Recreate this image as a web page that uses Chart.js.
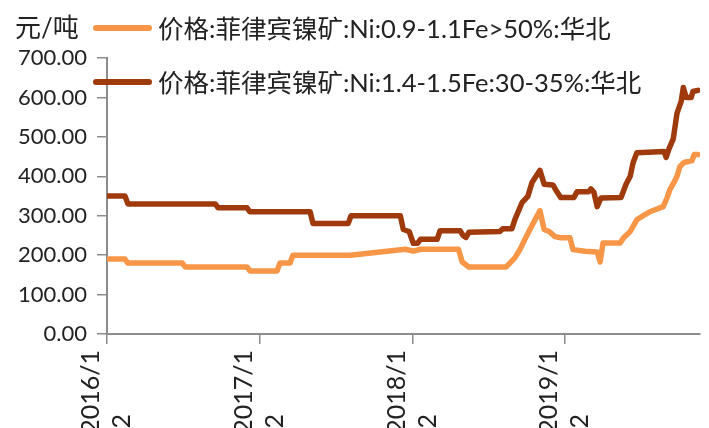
<!DOCTYPE html>
<html>
<head>
<meta charset="utf-8">
<script src="https://cdn.jsdelivr.net/npm/chart.js@4/dist/chart.umd.min.js"></script>
<style>
  html, body { margin: 0; padding: 0; background: #fff; }
  #wrap { position: relative; width: 709px; height: 428px; overflow: hidden; }
  #c { position: absolute; left: 0; top: 0; }
  .txt { position: absolute; white-space: nowrap; color: #222;
         font-family: Lato, "Noto Sans CJK SC", sans-serif; font-size: 25.5px;
         height: 40px; line-height: 40px; }
  .swatch { position: absolute; width: 59px; height: 6px; border-radius: 3px; }
</style>
</head>
<body>
<div id="wrap">
  <canvas id="c" width="709" height="428"></canvas>
  <div class="txt" id="unit" style="left:15px; top:7px; font-size:26px;">元/吨</div>
  <div class="swatch" id="sw0" style="left:93px; top:25px;"></div>
  <div class="txt" id="lg0" style="left:158px; top:8px;"></div>
  <div class="swatch" id="sw1" style="left:93px; top:79px;"></div>
  <div class="txt" id="lg1" style="left:158px; top:62px;"></div>
</div>
<script>
// Series names
const seriesNames = [
  '价格:菲律宾镍矿:Ni:0.9-1.1Fe>50%:华北',
  '价格:菲律宾镍矿:Ni:1.4-1.5Fe:30-35%:华北'
];
const seriesColors = ['#F79646', '#9E3A0B'];

// Ni 0.9-1.1, Fe>50% (元/吨)
const orangeDates = ['2016-01-02','2016-02-14','2016-02-21','2016-06-30','2016-07-07','2016-12-02','2016-12-09',
  '2017-02-12','2017-02-19','2017-03-15','2017-03-22','2017-08-06','2017-12-16',
  '2018-01-04','2018-01-21','2018-04-22','2018-05-01','2018-05-16','2018-08-14','2018-08-23','2018-09-04',
  '2018-09-16','2018-09-28','2018-10-10','2018-10-20','2018-11-03','2018-11-13','2018-11-25','2018-12-09','2018-12-23',
  '2019-01-14','2019-01-21','2019-02-19','2019-03-20','2019-03-27','2019-04-03','2019-05-14','2019-05-23','2019-06-07',
  '2019-06-23','2019-07-08','2019-07-24','2019-08-25','2019-09-03','2019-09-10','2019-09-20','2019-09-27','2019-10-04',
  '2019-10-14','2019-11-02','2019-11-07','2019-11-16'];
const orangeValues = [190,190,180,180,170,170,160,
  160,180,180,200,200,215,
  210,215,215,183,170,170,180,193,
  214,240,265,285,313,265,260,247,244,
  244,214,210,208,183,231,231,245,260,
  290,300,310,323,345,366,385,400,425,
  435,440,455,455];

// Ni 1.4-1.5, Fe 30-35% (元/吨)
const darkDates = ['2016-01-02','2016-02-14','2016-02-21','2016-09-17','2016-09-24','2016-12-02','2016-12-09',
  '2017-05-02','2017-05-09','2017-08-01','2017-08-08','2017-12-04','2017-12-11','2017-12-25',
  '2018-01-04','2018-01-14','2018-01-21','2018-03-02','2018-03-09','2018-04-26','2018-05-03','2018-05-10','2018-05-17',
  '2018-07-30','2018-08-06','2018-08-28','2018-09-04','2018-09-21','2018-10-05','2018-10-15','2018-11-03','2018-11-13',
  '2018-12-04','2018-12-14','2018-12-23','2019-01-23','2019-01-31','2019-02-28','2019-03-05','2019-03-12','2019-03-20',
  '2019-03-29','2019-05-16','2019-05-28','2019-06-07','2019-06-14','2019-06-23','2019-08-27','2019-09-01','2019-09-08',
  '2019-09-18','2019-09-27','2019-10-07','2019-10-12','2019-10-19','2019-10-31','2019-11-04','2019-11-16'];
const darkValues = [350,350,330,330,320,320,310,
  310,280,280,300,300,265,260,
  230,230,240,240,262,262,250,245,258,
  260,267,267,290,333,349,384,415,380,
  378,360,346,346,361,361,368,360,323,
  345,346,380,400,435,460,463,448,470,
  495,560,590,625,600,600,615,618];

// Axis ticks
const tickDates = ['2016-01-02','2017-01-02','2018-01-02','2019-01-02'];
const tickLabels = [['2016/1','2'],['2017/1','2'],['2018/1','2'],['2019/1','2']];
const axisStart = '2016-01-02';
const axisEnd = '2019-11-21';

const DAY = 86400000;
const toUTC = s => { const [y,m,d] = s.split('-').map(Number); return Date.UTC(y, m-1, d); };
const dayOf = s => Math.round((toUTC(s) - toUTC(axisStart)) / DAY);
const toPoints = (dates, vals) => dates.map((d, i) => ({ x: dayOf(d), y: vals[i] }));
const tickDays = tickDates.map(dayOf);

const FONT = 'Lato, "Noto Sans CJK SC", sans-serif';
const Y_TICK_SIZE = 22;
const X_TICK_SIZE = 25;
const AXIS_COLOR = '#8c8c8c';

// second label line is padded so it starts where the first line starts
const measure = document.createElement('canvas').getContext('2d');
measure.font = X_TICK_SIZE + 'px ' + FONT;
function padLine(line, ref) {
  let s = line;
  while (measure.measureText(s + ' ').width <= measure.measureText(ref).width + 1) s += ' ';
  return s;
}

document.getElementById('lg0').textContent = seriesNames[0];
document.getElementById('lg1').textContent = seriesNames[1];
document.getElementById('sw0').style.background = seriesColors[0];
document.getElementById('sw1').style.background = seriesColors[1];

const lineStyle = color => ({
  borderColor: color, backgroundColor: color, borderWidth: 5.5,
  pointRadius: 0, tension: 0, fill: false,
  borderJoinStyle: 'round', borderCapStyle: 'round'
});

new Chart(document.getElementById('c'), {
  type: 'line',
  data: {
    datasets: [
      Object.assign({ label: seriesNames[0], data: toPoints(orangeDates, orangeValues) }, lineStyle(seriesColors[0])),
      Object.assign({ label: seriesNames[1], data: toPoints(darkDates, darkValues) }, lineStyle(seriesColors[1]))
    ]
  },
  options: {
    responsive: false,
    animation: false,
    devicePixelRatio: 1,
    layout: { padding: { top: 58, right: 9, left: 0, bottom: 0 } },
    plugins: { legend: { display: false }, tooltip: { enabled: false } },
    scales: {
      x: {
        type: 'linear',
        min: 0,
        max: dayOf(axisEnd),
        afterBuildTicks: s => { s.ticks = tickDays.map(v => ({ value: v })); },
        afterFit: s => { s.height = 94; },
        border: { display: true, color: AXIS_COLOR, width: 2 },
        grid: { display: true, drawOnChartArea: false, drawTicks: true, tickLength: 10, color: AXIS_COLOR, lineWidth: 1.5 },
        ticks: {
          autoSkip: false, minRotation: 90, maxRotation: 90,
          padding: 6, labelOffset: -16, color: '#222',
          font: { family: FONT, size: X_TICK_SIZE, lineHeight: 1.24 },
          callback: v => {
            const i = tickDays.indexOf(v);
            if (i < 0) return '';
            const [a, b] = tickLabels[i];
            return [a, padLine(b, a)];
          }
        }
      },
      y: {
        min: 0, max: 700,
        afterFit: s => { s.width = 107; },
        border: { display: true, color: AXIS_COLOR, width: 2 },
        grid: { display: true, drawOnChartArea: false, drawTicks: true, tickLength: 10, color: AXIS_COLOR, lineWidth: 1.5 },
        ticks: {
          stepSize: 100, padding: 10, color: '#222',
          font: { family: FONT, size: Y_TICK_SIZE },
          callback: v => Number(v).toFixed(2)
        }
      }
    }
  }
});
</script>
</body>
</html>
